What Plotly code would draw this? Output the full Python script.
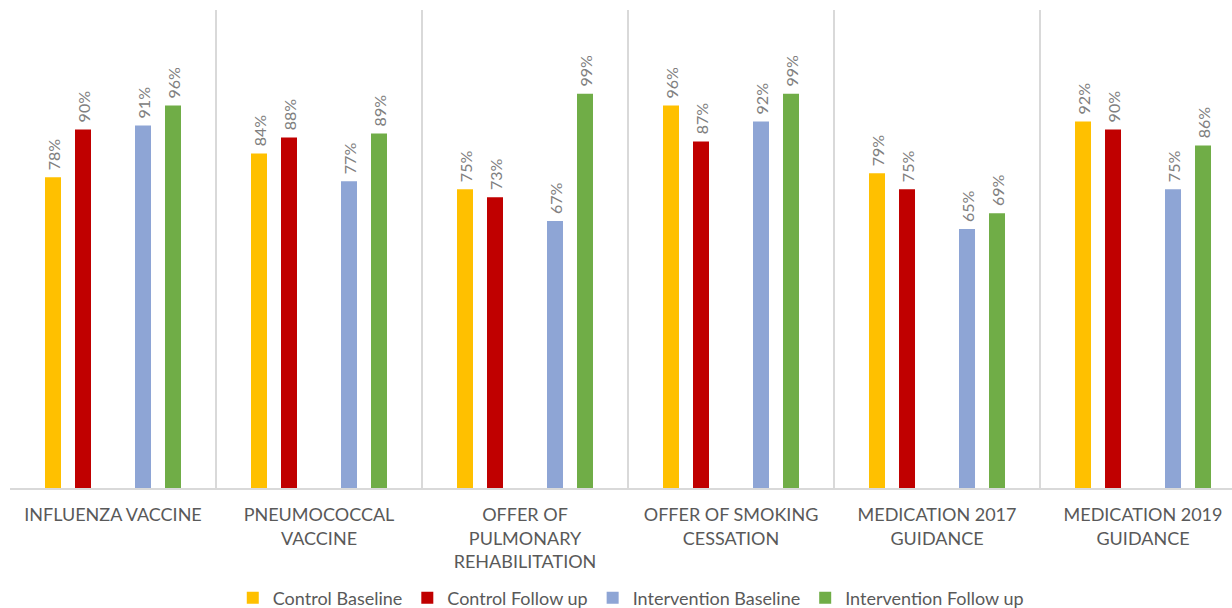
import plotly.graph_objects as go

categories = [
    "INFLUENZA VACCINE",
    "PNEUMOCOCCAL<br>VACCINE",
    "OFFER OF<br>PULMONARY<br>REHABILITATION",
    "OFFER OF SMOKING<br>CESSATION",
    "MEDICATION 2017<br>GUIDANCE",
    "MEDICATION 2019<br>GUIDANCE",
]
series_names = ["Control Baseline", "Control Follow up", "Intervention Baseline", "Intervention Follow up"]
control_baseline = [78, 84, 75, 96, 79, 92]
control_follow_up = [90, 88, 73, 87, 75, 90]
intervention_baseline = [91, 77, 67, 92, 65, 75]
intervention_follow_up = [96, 89, 99, 99, 69, 86]

series_values = [control_baseline, control_follow_up, intervention_baseline, intervention_follow_up]
colors = ["#FFC000", "#C00000", "#8EA5D5", "#70AD47"]
slots = [-2, -1, 1, 2]  # empty slot in the middle
SLOT = 30 / 206
BAR_W = 16 / 206

fig = go.Figure()
for name, vals, col, s in zip(series_names, series_values, colors, slots):
    fig.add_trace(go.Bar(
        x=categories, y=vals, name=name,
        marker=dict(color=col, line=dict(width=0)),
        width=BAR_W, offset=s * SLOT - BAR_W / 2,
        text=vals, texttemplate="\u00a0%{text}%",
        textposition="outside", textangle=-90, constraintext="none",
        textfont=dict(family="Lato", size=16, color="#808080"),
        cliponaxis=False,
    ))

fig.update_layout(
    width=1232, height=608,
    margin=dict(l=10, r=0, t=10, b=120, autoexpand=False),
    paper_bgcolor="white", plot_bgcolor="white",
    barmode="overlay",
    showlegend=True,
    legend=dict(orientation="h", x=0.508, xanchor="center", y=-0.23, yanchor="middle",
                font=dict(family="Lato", size=18, color="#595959"),
                itemwidth=30, traceorder="normal"),
)
fig.update_xaxes(
    type="category", range=[-0.5, 5.432], automargin=False,
    tickson="boundaries", showgrid=True, gridcolor="#D9D9D9", gridwidth=1.5,
    showline=True, linecolor="#D9D9D9", linewidth=1.5,
    ticks="", ticklabelstandoff=10,
    tickfont=dict(family="Lato", size=18, color="#595959"),
    zeroline=False,
)
fig.update_yaxes(
    range=[0, 120], showgrid=False, showticklabels=False, zeroline=False,
    showline=False, automargin=False,
)
fig.write_html("out.html")
